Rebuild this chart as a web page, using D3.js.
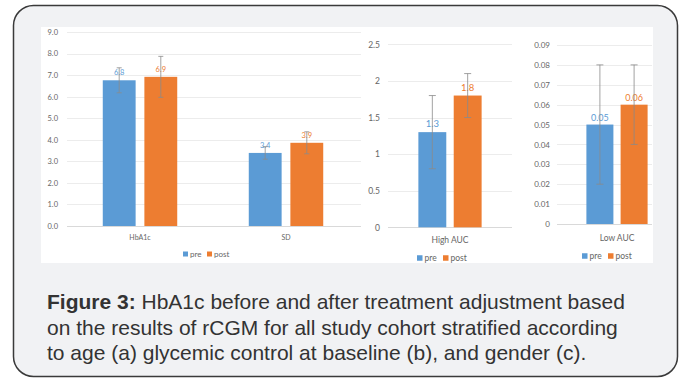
<!DOCTYPE html>
<html>
<head>
<meta charset="utf-8">
<script src="https://cdn.jsdelivr.net/npm/d3@7"></script>
<style>
  body { margin: 0; background: #ffffff; }
  svg { display: block; }
  .tick text { font-family: Lato, "Open Sans", sans-serif; fill: #666666; }
</style>
</head>
<body>
<svg id="fig" width="685" height="378"></svg>
<script>
// values
var cats1 = ["HbA1c", "SD"],
    pre1 = [6.76, 3.39],
    post1 = [6.92, 3.86],
    preErr1 = [0.58, 0.29],
    postErr1 = [0.95, 0.51];

var cats2 = ["High AUC"],
    pre2 = [1.3],
    post2 = [1.8],
    preErr2 = [0.5],
    postErr2 = [0.3];

var cats3 = ["Low AUC"],
    pre3 = [0.05],
    post3 = [0.06],
    preErr3 = [0.03],
    postErr3 = [0.02];

var seriesNames = ["pre", "post"],
    seriesColors = ["#5b9bd5", "#ed7d31"];

var captionBold = "Figure 3:",
    captionLines = [
        " HbA1c before and after treatment adjustment based",
        "on the results of rCGM for all study cohort stratified according",
        "to age (a) glycemic control at baseline (b), and gender (c)."
    ];

var svg = d3.select("#fig");

// card
svg.append("rect")
    .attr("x", 13.5).attr("y", 5.5)
    .attr("width", 664).attr("height", 371)
    .attr("rx", 20).attr("ry", 20)
    .style("fill", "#f1f2f4")
    .style("stroke", "#3a3a3a")
    .style("stroke-width", 1.5);

// white chart strip
svg.append("rect")
    .attr("x", 41).attr("y", 27)
    .attr("width", 612).attr("height", 236)
    .style("fill", "#ffffff");

function drawPanel(cfg) {
    var x0 = d3.scaleBand()
        .domain(cfg.cats)
        .range([cfg.left, cfg.right]);

    var yScale = d3.scaleLinear()
        .domain([0, cfg.max])
        .range([cfg.bottom, cfg.top]);

    var bw = x0.bandwidth() * 0.225,
        gap = x0.bandwidth() * 0.06;

    var g = svg.append("g");

    // gridlines
    var ticks = yScale.ticks(cfg.nticks);
    g.selectAll(".grid")
        .data(ticks)
        .enter().append("line")
        .attr("class", "grid")
        .attr("x1", cfg.left)
        .attr("x2", cfg.gridEnd)
        .attr("y1", function(d) { return Math.round(yScale(d)) + 0.5; })
        .attr("y2", function(d) { return Math.round(yScale(d)) + 0.5; })
        .style("stroke", function(d) { return d === 0 ? "#d9d9d9" : "#ececec"; })
        .style("stroke-width", 1);

    // y axis labels
    var yAxis = d3.axisLeft(yScale)
        .tickValues(ticks)
        .tickSize(0)
        .tickPadding(0)
        .tickFormat(d3.format(cfg.tickFmt));

    var ya = g.append("g")
        .attr("transform", "translate(" + cfg.tickX + ",0)")
        .call(yAxis);
    ya.select(".domain").remove();
    ya.selectAll("text").style("font-size", cfg.tickSize + "px");

    // bars
    var rows = cfg.cats.map(function(c, i) {
        return [
            {cat: c, s: 0, v: cfg.pre[i], e: cfg.preErr[i]},
            {cat: c, s: 1, v: cfg.post[i], e: cfg.postErr[i]}
        ];
    });
    var flat = d3.merge(rows);

    function barX(d) {
        var mid = x0(d.cat) + x0.bandwidth() / 2;
        return d.s === 0 ? mid - gap / 2 - bw : mid + gap / 2;
    }

    g.selectAll(".bar")
        .data(flat)
        .enter().append("rect")
        .attr("class", "bar")
        .attr("x", barX)
        .attr("width", bw)
        .attr("y", function(d) { return yScale(d.v); })
        .attr("height", function(d) { return yScale(0) - yScale(d.v); })
        .style("fill", function(d) { return seriesColors[d.s]; });

    // data labels
    g.selectAll(".dlabel")
        .data(flat)
        .enter().append("text")
        .attr("class", "dlabel")
        .attr("x", function(d) { return barX(d) + bw / 2; })
        .attr("y", function(d) { return yScale(d.v) - cfg.labOff; })
        .style("text-anchor", "middle")
        .style("font-family", "Lato, sans-serif")
        .style("font-size", cfg.labSize + "px")
        .style("fill", function(d) { return seriesColors[d.s]; })
        .text(function(d) { return d3.format(cfg.labFmt)(d.v); });

    // error bars
    var eb = g.selectAll(".err")
        .data(flat)
        .enter().append("g")
        .attr("class", "err")
        .style("stroke", "#8a8a8a")
        .style("stroke-width", 0.8);

    eb.append("line")
        .attr("x1", function(d) { return barX(d) + bw / 2; })
        .attr("x2", function(d) { return barX(d) + bw / 2; })
        .attr("y1", function(d) { return yScale(d.v + d.e); })
        .attr("y2", function(d) { return yScale(d.v - d.e); });

    [1, -1].forEach(function(sign) {
        eb.append("line")
            .attr("x1", function(d) { return barX(d) + bw / 2 - cfg.cap; })
            .attr("x2", function(d) { return barX(d) + bw / 2 + cfg.cap; })
            .attr("y1", function(d) { return yScale(d.v + sign * d.e); })
            .attr("y2", function(d) { return yScale(d.v + sign * d.e); });
    });

    // category labels
    g.selectAll(".cat")
        .data(cfg.cats)
        .enter().append("text")
        .attr("class", "cat")
        .attr("x", function(d) { return x0(d) + x0.bandwidth() / 2; })
        .attr("y", cfg.catY)
        .style("text-anchor", "middle")
        .style("font-family", "Lato, sans-serif")
        .style("font-size", cfg.catSize + "px")
        .style("fill", "#666666")
        .text(function(d) { return d; });

    // legend
    var legend = g.selectAll(".legend")
        .data(seriesNames)
        .enter().append("g")
        .attr("class", "legend")
        .attr("transform", function(d, i) {
            return "translate(" + (cfg.legX + i * cfg.legStep) + "," + cfg.legY + ")";
        });

    legend.append("rect")
        .attr("x", 0)
        .attr("y", -cfg.legSq / 2)
        .attr("width", cfg.legSq)
        .attr("height", cfg.legSq)
        .style("fill", function(d, i) { return seriesColors[i]; });

    legend.append("text")
        .attr("x", cfg.legSq + 2)
        .attr("y", 0)
        .attr("dy", ".35em")
        .style("font-family", "Lato, sans-serif")
        .style("font-size", cfg.legSize + "px")
        .style("fill", "#666666")
        .text(function(d) { return d; });
}

drawPanel({
    cats: cats1, pre: pre1, post: post1, preErr: preErr1, postErr: postErr1,
    left: 67, right: 359, gridEnd: 361, top: 32, bottom: 226, max: 9, nticks: 9,
    tickFmt: ".1f", tickX: 58, tickSize: 7.5,
    labFmt: ".1f", labSize: 7.5, labOff: 5, cap: 2.5,
    catY: 240, catSize: 7,
    legX: 183, legY: 254, legStep: 24, legSq: 5, legSize: 8
});

drawPanel({
    cats: cats2, pre: pre2, post: post2, preErr: preErr2, postErr: postErr2,
    left: 388, right: 512, gridEnd: 512, top: 44.3, bottom: 227.3, max: 2.5, nticks: 5,
    tickFmt: "", tickX: 380, tickSize: 8.5,
    labFmt: "", labSize: 9.5, labOff: 5, cap: 3.5,
    catY: 243, catSize: 8.5,
    legX: 417, legY: 258, legStep: 26, legSq: 5.5, legSize: 8.5
});

drawPanel({
    cats: cats3, pre: pre3, post: post3, preErr: preErr3, postErr: postErr3,
    left: 557, right: 677, gridEnd: 652, top: 45, bottom: 224, max: 0.09, nticks: 9,
    tickFmt: "", tickX: 550, tickSize: 8,
    labFmt: "", labSize: 9, labOff: 4, cap: 3.5,
    catY: 241, catSize: 8.5,
    legX: 582, legY: 256, legStep: 26, legSq: 5.5, legSize: 8.5
});

// caption
var cap = svg.append("text")
    .attr("x", 47)
    .attr("y", 309)
    .style("font-family", "'Liberation Sans', Arial, sans-serif")
    .style("font-size", "21px")
    .style("fill", "#333333");

cap.append("tspan")
    .style("font-weight", "bold")
    .text(captionBold);

captionLines.forEach(function(line, i) {
    var t = cap.append("tspan").text(line);
    if (i > 0) t.attr("x", 47).attr("dy", 25.5);
});
</script>
</body>
</html>
